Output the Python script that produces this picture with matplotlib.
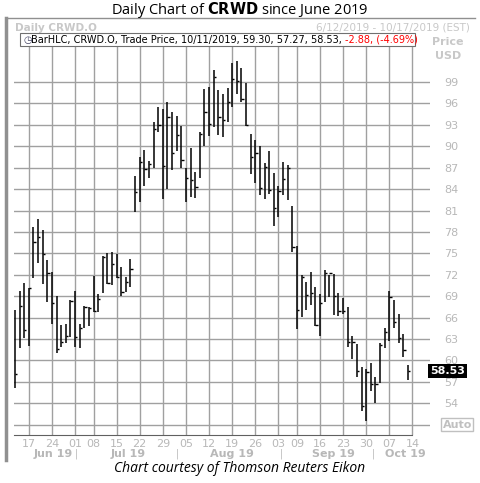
import numpy as np
import matplotlib.pyplot as plt

# daily high / low / close (trading-day index order)
highs = [67.1, 69.7, 70.8, 70.1, 78.7, 79.8, 78.3, 74.1, 72.4, 69.0, 65.0, 65.1, 68.5, 69.7, 65.1,
         67.6, 67.5, 71.8, 69.3, 74.6, 75.0, 75.2, 74.9, 73.1, 71.7, 74.2, 85.8, 88.5, 89.5, 87.9,
         93.4, 95.5, 95.2, 96.2, 94.8, 94.2, 92.8, 87.0, 89.8, 86.4, 92.0, 98.0, 98.3, 100.7, 97.9,
         97.3, 98.2, 101.7, 101.9, 101.0, 98.9, 91.7, 90.9, 90.0, 87.7, 89.3, 86.3, 84.4, 87.8, 87.4,
         81.6, 76.0, 72.0, 71.0, 72.4, 70.3, 69.3, 72.7, 72.0, 72.1, 69.5, 68.7, 67.5, 63.4, 62.3,
         59.1, 58.8, 59.6, 57.7, 62.4, 64.5, 69.7, 68.5, 66.5, 63.7, 59.30]
lows = [56.1, 61.7, 63.1, 62.0, 71.5, 73.6, 70.7, 68.2, 65.1, 61.0, 61.9, 62.4, 63.3, 61.9, 61.7,
        64.5, 64.8, 66.8, 66.8, 69.4, 70.7, 70.6, 71.5, 69.0, 69.6, 70.3, 80.8, 82.2, 84.4, 85.6,
        87.0, 92.0, 82.6, 84.0, 86.7, 89.3, 87.0, 82.2, 82.9, 82.8, 85.6, 90.0, 91.4, 92.7, 91.6,
        91.3, 93.4, 95.5, 97.3, 96.2, 92.8, 86.1, 84.9, 83.2, 82.6, 83.3, 78.8, 80.1, 83.2, 82.5,
        75.2, 64.4, 66.1, 67.1, 67.8, 64.8, 63.4, 68.2, 68.9, 66.4, 66.2, 66.5, 61.9, 60.2, 57.7,
        52.9, 51.5, 55.7, 54.0, 56.8, 61.7, 62.7, 64.5, 62.4, 60.5, 57.27]
closes = [58.1, 67.6, 64.3, 70.1, 76.6, 77.3, 74.9, 72.2, 68.0, 61.6, 62.6, 63.4, 68.3, 63.3, 64.5,
          67.5, 67.3, 66.9, 68.6, 74.5, 70.8, 73.5, 71.7, 69.6, 71.0, 72.8, 83.6, 87.8, 86.8, 87.5,
          92.4, 93.0, 87.2, 94.1, 89.1, 91.6, 88.1, 85.6, 85.3, 84.3, 91.7, 94.8, 93.1, 99.7, 94.1,
          93.7, 96.2, 99.4, 99.1, 96.6, 93.0, 88.5, 89.1, 84.2, 87.1, 83.9, 81.4, 83.7, 85.4, 87.0,
          75.9, 67.1, 71.7, 69.2, 69.5, 65.0, 68.1, 72.3, 72.3, 69.0, 66.9, 66.9, 62.6, 62.6, 58.5,
          53.6, 58.4, 56.7, 56.7, 62.2, 64.0, 68.9, 65.4, 63.1, 61.5, 58.53]

week_pos = [3, 8, 13, 17, 22, 27, 32, 37, 42, 47, 52, 57, 61, 66, 71, 76, 81, 86]
week_labels = ['17', '24', '01', '08', '15', '22', '29', '05', '12', '19', '26',
               '03', '09', '16', '23', '30', '07', '14']
month_pos = [8.2, 24.5, 47, 69, 84.5]
month_labels = ['Jun 19', 'Jul 19', 'Aug 19', 'Sep 19', 'Oct 19']
month_sep = [13.2, 35.2, 57.6, 77.5]
price_ticks = list(range(54, 100, 3))

W, H = 481, 483
fig = plt.figure(figsize=(W / 100, H / 100), dpi=100)
ax = fig.add_axes([14 / W, 1 - 435 / H, (430 - 14) / W, (435 - 38) / H])

gray = '#a0a0a0'
x = np.arange(len(highs))
ax.vlines(x, lows, highs, color='black', lw=1.1)
ax.hlines(closes, x, x + 0.5, color='black', lw=1)

ax.set_xlim(-0.2, 89.8)
ax.set_ylim(49.56, 99 + (82 - 38) / 7.14)
for p in price_ticks + [51]:
    ax.axhline(p, color=gray, lw=1, zorder=0)
for p in week_pos:
    ax.axvline(p, color=gray, lw=1, zorder=0)

for s in ['top', 'right', 'left']:
    ax.spines[s].set_visible(False)
ax.spines['bottom'].set_color('#606060')
ax.spines['bottom'].set_bounds(-0.2, 86)
ax.set_xticks(week_pos)
ax.set_xticklabels(week_labels, color='#b8b8b8', fontsize=8)
ax.tick_params(axis='x', length=0, pad=3)
ax.yaxis.tick_right()
ax.set_yticks(price_ticks)
ax.set_yticklabels([str(p) for p in price_ticks], color='#b8b8b8', fontsize=8)
ax.tick_params(axis='y', length=0, pad=10)
for p, lab in zip(month_pos, month_labels):
    ax.text(p, -0.048, lab, transform=ax.get_xaxis_transform(), ha='center', va='center',
            color='#b8b8b8', fontsize=8, fontweight='bold')
for p in month_sep:
    ax.text(p, -0.048, '|', transform=ax.get_xaxis_transform(), ha='center', va='center',
            color='#b8b8b8', fontsize=7)

# last price box
ax.text(1.0, closes[-1], f'{closes[-1]:.2f}', transform=ax.get_yaxis_transform(), ha='left',
        va='center', color='white', fontsize=8, fontweight='bold',
        bbox=dict(facecolor='black', edgecolor='none', pad=1.5))
ax.text(1.03, 51, 'Auto', transform=ax.get_yaxis_transform(), ha='left', va='center',
        color='#c0c0c0', fontsize=8, fontweight='bold',
        bbox=dict(facecolor='white', edgecolor='#c0c0c0', pad=1))

# frame and header texts
fig.add_artist(plt.Line2D([6 / W, 6 / W], [1 - 18 / H, 1 - 460 / H], color='#909090', lw=2.5))
fig.add_artist(plt.Line2D([6 / W, 475 / W], [1 - 18 / H, 1 - 18 / H], color='#909090', lw=1))
fig.text(240 / W, 1 - 10 / H, 'Daily Chart of $\\bf{CRWD}$ since June 2019', ha='center',
         va='center', fontsize=10.5, family='Open Sans')
fig.text(15 / W, 1 - 28 / H, 'Daily CRWD.O', color='#c8c8c8', fontsize=7.5, fontweight='bold',
         va='center')
fig.text(470 / W, 1 - 28 / H, '6/12/2019 - 10/17/2019 (EST)', color='#c8c8c8', fontsize=7.5,
         ha='right', va='center')
fig.text(448 / W, 1 - 42 / H, 'Price', color='#c8c8c8', fontsize=8, fontweight='bold',
         ha='center', va='center')
fig.text(448 / W, 1 - 56 / H, 'USD', color='#c8c8c8', fontsize=8, fontweight='bold',
         ha='center', va='center')
fig.add_artist(plt.Rectangle((20 / W, 1 - 46 / H), 395 / W, 13 / H, facecolor='white',
                             edgecolor='#707070', lw=0.8))
t = fig.text(31 / W, 1 - 40 / H, 'BarHLC, CRWD.O, Trade Price, 10/11/2019, 59.30, 57.27, 58.53, ',
             fontsize=7, va='center')
fig.canvas.draw()
bb = t.get_window_extent(fig.canvas.get_renderer())
fig.text(bb.x1 / W, 1 - 40 / H, '-2.88, (-4.69%)', color='red', fontsize=7, va='center')
fig.text(23 / W, 1 - 40 / H, '◷', fontsize=7, va='center', color='#404060')
fig.text(240 / W, 1 - 468 / H, 'Chart courtesy of Thomson Reuters Eikon', ha='center',
         va='center', fontsize=10, style='italic', family='Open Sans')

fig.savefig('out.png', dpi=100)
